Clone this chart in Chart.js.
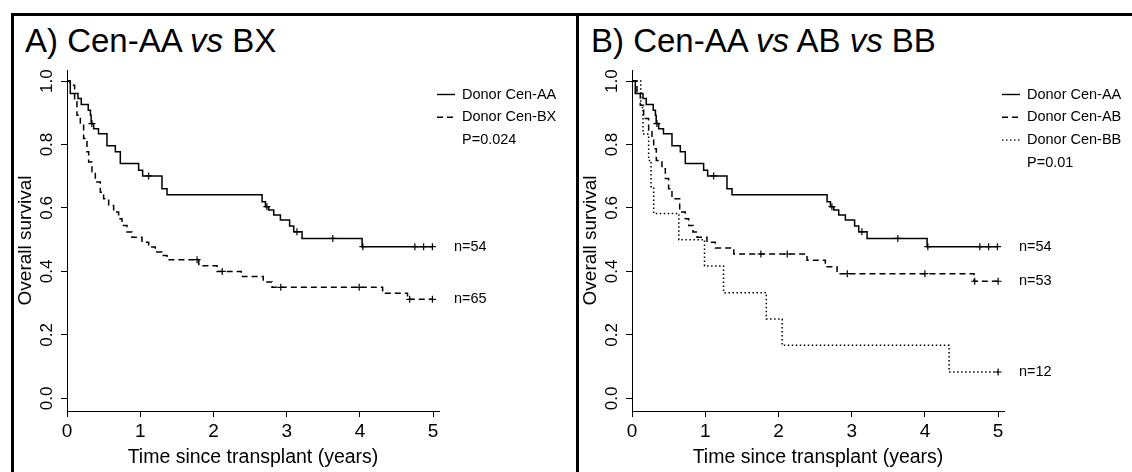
<!DOCTYPE html>
<html>
<head>
<meta charset="utf-8">
<script src="https://cdn.jsdelivr.net/npm/chart.js@4.4.1/dist/chart.umd.min.js"></script>
<style>
    body {
        margin: 0;
        width: 1132px;
        height: 472px;
        overflow: hidden;
        position: relative;
        background: #fff;
        font-family: "Liberation Sans", Arial, sans-serif;
    }
    .frame {
        position: absolute;
        left: 11px;
        top: 13px;
        width: 1200px;
        height: 500px;
        border-top: 3px solid #000;
        border-left: 3px solid #000;
    }
    .divider {
        position: absolute;
        left: 576px;
        top: 13px;
        width: 3px;
        height: 470px;
        background: #000;
    }
    .panel {
        position: absolute;
        top: 16px;
        width: 562px;
        height: 456px;
    }
    #panelA { left: 14px; }
    #panelB { left: 579px; }
    .ptitle {
        position: absolute;
        top: 24px;
        font-size: 33px;
        line-height: 33px;
        white-space: nowrap;
        color: #000;
    }
</style>
</head>
<body>
<div class="frame"></div>
<div class="divider"></div>
<div class="ptitle" style="left:25px">A) Cen-AA <i>vs</i> BX</div>
<div class="ptitle" style="left:591px">B) Cen-AA <i>vs</i> AB <i>vs</i> BB</div>
<div class="panel" id="panelA"><canvas id="chartA" width="562" height="456"></canvas></div>
<div class="panel" id="panelB"><canvas id="chartB" width="562" height="456"></canvas></div>

<script>
const xTicks = [0, 1, 2, 3, 4, 5];
const yTicks = [0, 0.2, 0.4, 0.6, 0.8, 1.0];

// Donor Cen-AA, n=54 (same curve in both panels)
const aaTime = [0, 0.045, 0.15, 0.195, 0.29, 0.32, 0.33, 0.364, 0.43, 0.546, 0.66, 0.728, 0.978, 1.033, 1.297, 1.366, 2.664, 2.71, 2.755, 2.823, 2.914, 3.04, 3.096, 3.21, 4.03];
const aaSurv = [1, 0.961, 0.945, 0.926, 0.908, 0.892, 0.866, 0.85, 0.834, 0.796, 0.777, 0.74, 0.719, 0.701, 0.661, 0.642, 0.62, 0.604, 0.594, 0.578, 0.562, 0.543, 0.525, 0.504, 0.478];
const aaCensor = [0.34, 1.115, 2.73, 3.14, 3.63, 4.04, 4.75, 4.87, 4.99];

// Donor Cen-BX, n=65
const bxTime = [0, 0.045, 0.104, 0.136, 0.182, 0.227, 0.273, 0.296, 0.341, 0.387, 0.455, 0.5, 0.569, 0.637, 0.705, 0.751, 0.819, 0.887, 1.024, 1.115, 1.206, 1.297, 1.366, 1.8, 2.05, 2.38, 2.68, 2.8, 4.31, 4.65];
const bxSurv = [1, 0.987, 0.935, 0.892, 0.861, 0.819, 0.777, 0.745, 0.714, 0.682, 0.65, 0.629, 0.608, 0.587, 0.566, 0.545, 0.524, 0.508, 0.492, 0.477, 0.461, 0.45, 0.437, 0.418, 0.4, 0.384, 0.367, 0.35, 0.331, 0.312];
const bxCensor = [1.776, 2.12, 2.92, 3.99, 4.68, 4.99];

// Donor Cen-AB, n=53
const abTime = [0, 0.068, 0.113, 0.159, 0.227, 0.273, 0.296, 0.332, 0.409, 0.455, 0.5, 0.546, 0.651, 0.728, 0.774, 0.833, 0.888, 1.024, 1.138, 1.39, 2.39, 2.64, 2.8, 4.67];
const abSurv = [1, 0.966, 0.924, 0.882, 0.845, 0.819, 0.787, 0.75, 0.724, 0.693, 0.661, 0.629, 0.587, 0.566, 0.545, 0.524, 0.508, 0.492, 0.474, 0.455, 0.435, 0.415, 0.393, 0.369];
const abCensor = [1.76, 2.12, 2.94, 4.0, 4.68, 5.0];

// Donor Cen-BB, n=12
const bbTime = [0, 0.12, 0.15, 0.227, 0.26, 0.296, 0.64, 0.99, 1.25, 1.834, 2.05, 4.33];
const bbSurv = [1, 0.917, 0.833, 0.75, 0.667, 0.583, 0.5, 0.417, 0.333, 0.25, 0.167, 0.083];
const bbCensor = [5.0];

const SOLID = [];
const DASHED = [6, 4];
const DOTTED = [1.5, 2.5];

Chart.defaults.font.family = '"Liberation Sans", Arial, sans-serif';
Chart.defaults.color = "#000";

function survAt(times, surv, t) {
    let s = surv[0];
    times.forEach((ti, i) => {
        if (ti <= t) s = surv[i];
    });
    return s;
}

function curveDatasets(times, surv, censor, dash, nLabel) {
    const pts = times.map((t, i) => ({ x: t, y: surv[i] }));
    const lastT = censor[censor.length - 1];
    pts.push({ x: lastT, y: survAt(times, surv, lastT) });
    return [
        {
            data: pts,
            showLine: true,
            stepped: true,
            borderColor: "#000",
            borderWidth: 1.5,
            borderDash: dash,
            pointRadius: 0,
            fill: false,
            nLabel: nLabel,
        },
        {
            data: censor.map((t) => ({ x: t, y: survAt(times, surv, t) })),
            showLine: false,
            pointStyle: "cross",
            pointRadius: 3.5,
            borderColor: "#000",
            borderWidth: 1.2,
        },
    ];
}

const kmLegend = {
    id: "kmLegend",
    afterDraw(chart, args, opts) {
        const { ctx, chartArea } = chart;
        ctx.save();
        ctx.font = '14.5px "Liberation Sans", Arial, sans-serif';
        ctx.fillStyle = "#000";
        ctx.strokeStyle = "#000";
        ctx.lineWidth = 1.4;
        ctx.textBaseline = "middle";
        const x0 = chartArea.right - 2;
        const y0 = chartArea.top + 24.5;
        opts.items.forEach((it, i) => {
            const y = y0 + i * 22.8;
            ctx.setLineDash(it.dash);
            ctx.beginPath();
            ctx.moveTo(x0, y);
            ctx.lineTo(x0 + 18, y);
            ctx.stroke();
            ctx.fillText(it.label, x0 + 25, y);
        });
        ctx.setLineDash([]);
        ctx.fillText(opts.pValue, x0 + 25, y0 + opts.items.length * 22.8);
        chart.data.datasets.forEach((ds) => {
            if (!ds.nLabel) return;
            const last = ds.data[ds.data.length - 1];
            ctx.fillText(ds.nLabel, chartArea.right + 15, chart.scales.y.getPixelForValue(last.y));
        });
        ctx.restore();
    },
};

const axisLine = {
    display: true,
    drawOnChartArea: false,
    drawTicks: true,
    tickLength: 6,
    color: "#000",
    lineWidth: 1,
};

function makeChart(id, datasets, legendItems, pValue) {
    return new Chart(document.getElementById(id).getContext("2d"), {
        type: "scatter",
        data: { datasets: datasets },
        plugins: [kmLegend],
        options: {
            responsive: false,
            animation: false,
            events: [],
            layout: { padding: { left: 0, top: 54, right: 137, bottom: 0 } },
            plugins: {
                legend: { display: false },
                tooltip: { enabled: false },
                kmLegend: { items: legendItems, pValue: pValue },
            },
            scales: {
                x: {
                    type: "linear",
                    min: 0,
                    max: 5.08,
                    bounds: "data",
                    afterBuildTicks: (axis) => {
                        axis.ticks = xTicks.map((v) => ({ value: v }));
                    },
                    afterFit: (axis) => {
                        axis.height = 61;
                    },
                    ticks: {
                        font: { size: 19 },
                        color: "#000",
                        padding: 3,
                        maxRotation: 0,
                        callback: (v) => String(v),
                    },
                    grid: axisLine,
                    border: { display: true, color: "#000", width: 1 },
                    title: {
                        display: true,
                        text: "Time since transplant (years)",
                        font: { size: 19.5 },
                        color: "#000",
                        padding: { top: 0, bottom: 3 },
                    },
                },
                y: {
                    type: "linear",
                    min: -0.04,
                    max: 1.035,
                    bounds: "data",
                    afterBuildTicks: (axis) => {
                        axis.ticks = yTicks.map((v) => ({ value: v }));
                    },
                    afterFit: (axis) => {
                        axis.width = 53;
                    },
                    ticks: {
                        minRotation: 90,
                        maxRotation: 90,
                        crossAlign: "center",
                        font: { size: 17 },
                        color: "#000",
                        padding: 2,
                        callback: (v) => v.toFixed(1),
                    },
                    grid: axisLine,
                    border: { display: true, color: "#000", width: 1 },
                    title: {
                        display: true,
                        text: "Overall survival",
                        font: { size: 19 },
                        color: "#000",
                        padding: { top: 0, bottom: 0 },
                    },
                },
            },
        },
    });
}

document.addEventListener("DOMContentLoaded", () => {
    makeChart(
        "chartA",
        [
            ...curveDatasets(aaTime, aaSurv, aaCensor, SOLID, "n=54"),
            ...curveDatasets(bxTime, bxSurv, bxCensor, DASHED, "n=65"),
        ],
        [
            { label: "Donor Cen-AA", dash: SOLID },
            { label: "Donor Cen-BX", dash: DASHED },
        ],
        "P=0.024"
    );
    makeChart(
        "chartB",
        [
            ...curveDatasets(aaTime, aaSurv, aaCensor, SOLID, "n=54"),
            ...curveDatasets(abTime, abSurv, abCensor, DASHED, "n=53"),
            ...curveDatasets(bbTime, bbSurv, bbCensor, DOTTED, "n=12"),
        ],
        [
            { label: "Donor Cen-AA", dash: SOLID },
            { label: "Donor Cen-AB", dash: DASHED },
            { label: "Donor Cen-BB", dash: DOTTED },
        ],
        "P=0.01"
    );
});
</script>
</body>
</html>
